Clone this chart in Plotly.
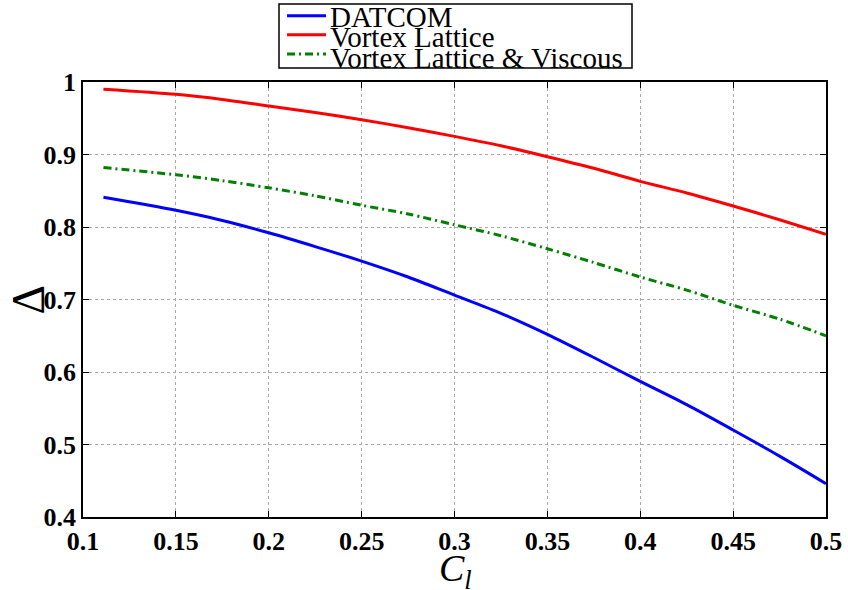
import plotly.graph_objects as go

cl = [0.111, 0.15, 0.175, 0.2, 0.225, 0.25, 0.275, 0.3, 0.325, 0.35, 0.375, 0.4, 0.425, 0.45, 0.475, 0.5]
datcom = [0.841, 0.823, 0.809, 0.792, 0.773, 0.753, 0.731, 0.706, 0.681, 0.652, 0.620, 0.587, 0.555, 0.520, 0.484, 0.446]
vortex = [0.990, 0.983, 0.976, 0.967, 0.958, 0.948, 0.937, 0.925, 0.912, 0.897, 0.881, 0.863, 0.847, 0.829, 0.810, 0.790]
viscous = [0.882, 0.872, 0.864, 0.854, 0.843, 0.830, 0.818, 0.803, 0.788, 0.770, 0.751, 0.731, 0.713, 0.692, 0.673, 0.650]

series_names = ["DATCOM", "Vortex Lattice", "Vortex Lattice &amp; Viscous"]
series_colors = ["#0000ff", "#ff0000", "#007f00"]
series_dash = ["solid", "solid", "8px,4px,2px,4px"]

x_ticks = [0.1, 0.15, 0.2, 0.25, 0.3, 0.35, 0.4, 0.45, 0.5]
x_labels = ["0.1", "0.15", "0.2", "0.25", "0.3", "0.35", "0.4", "0.45", "0.5"]
y_ticks = [0.4, 0.5, 0.6, 0.7, 0.8, 0.9, 1.0]
y_labels = ["0.4", "0.5", "0.6", "0.7", "0.8", "0.9", "1"]

SERIF = "Liberation Serif"

fig = go.Figure()
for ys, name, col, dash in zip([datcom, vortex, viscous], series_names, series_colors, series_dash):
    fig.add_trace(go.Scatter(x=cl, y=ys, mode="lines", name=name, showlegend=False,
                             line=dict(color=col, width=3, shape="spline", smoothing=0.8, dash=dash)))

axis_common = dict(
    showline=True, linecolor="black", linewidth=1.5, mirror="ticks",
    ticks="inside", ticklen=6, tickwidth=1.2, tickcolor="black",
    showgrid=True, gridcolor="#a8a8a8", griddash="dot", gridwidth=1,
    zeroline=False, automargin=False,
    tickfont=dict(family=SERIF, size=26, color="black"),
)

fig.update_xaxes(range=[0.1, 0.5], tickvals=x_ticks,
                 ticktext=["<b>%s</b>" % t for t in x_labels], **axis_common)
fig.update_yaxes(range=[0.4, 1.0], tickvals=y_ticks,
                 ticktext=["<b>%s</b>" % t for t in y_labels], **axis_common)

# axis titles
fig.add_annotation(text="Δ", x=-0.074, y=0.5, xref="paper", yref="paper",
                   xanchor="center", yanchor="middle", showarrow=False, textangle=-90,
                   font=dict(family=SERIF, size=46, color="black"))
fig.add_annotation(text="<i>C</i><sub><i>l</i></sub>", x=0.502, y=-0.124,
                   xref="paper", yref="paper", xanchor="center", yanchor="middle",
                   showarrow=False, font=dict(family=SERIF, size=38, color="black"))

# legend box (drawn in paper coordinates above the plot)
fig.add_shape(type="rect", xref="paper", yref="paper", x0=0.2638, x1=0.7389, y0=1.0322, y1=1.1793,
              line=dict(color="black", width=1.5), fillcolor="white")
row_line_y = [1.1524, 1.1087, 1.0644]
row_text_y = [1.1500, 1.1030, 1.0560]
for name, col, dash, ly, ty in zip(series_names, series_colors, series_dash, row_line_y, row_text_y):
    fig.add_shape(type="line", xref="paper", yref="paper", x0=0.2746, x1=0.3271, y0=ly, y1=ly,
                  line=dict(color=col, width=3, dash=dash))
    fig.add_annotation(text=name, x=0.3297, y=ty, xref="paper", yref="paper",
                       xanchor="left", yanchor="middle", showarrow=False,
                       font=dict(family=SERIF, size=29, color="black"))

fig.update_layout(
    width=848, height=590,
    margin=dict(l=83, r=22, t=82, b=73, autoexpand=False),
    paper_bgcolor="white", plot_bgcolor="white",
    showlegend=False,
    font=dict(family=SERIF),
)

fig.write_html("out.html", config={"displayModeBar": False},
               post_script="document.body.style.margin='0';document.body.style.overflow='hidden';")
